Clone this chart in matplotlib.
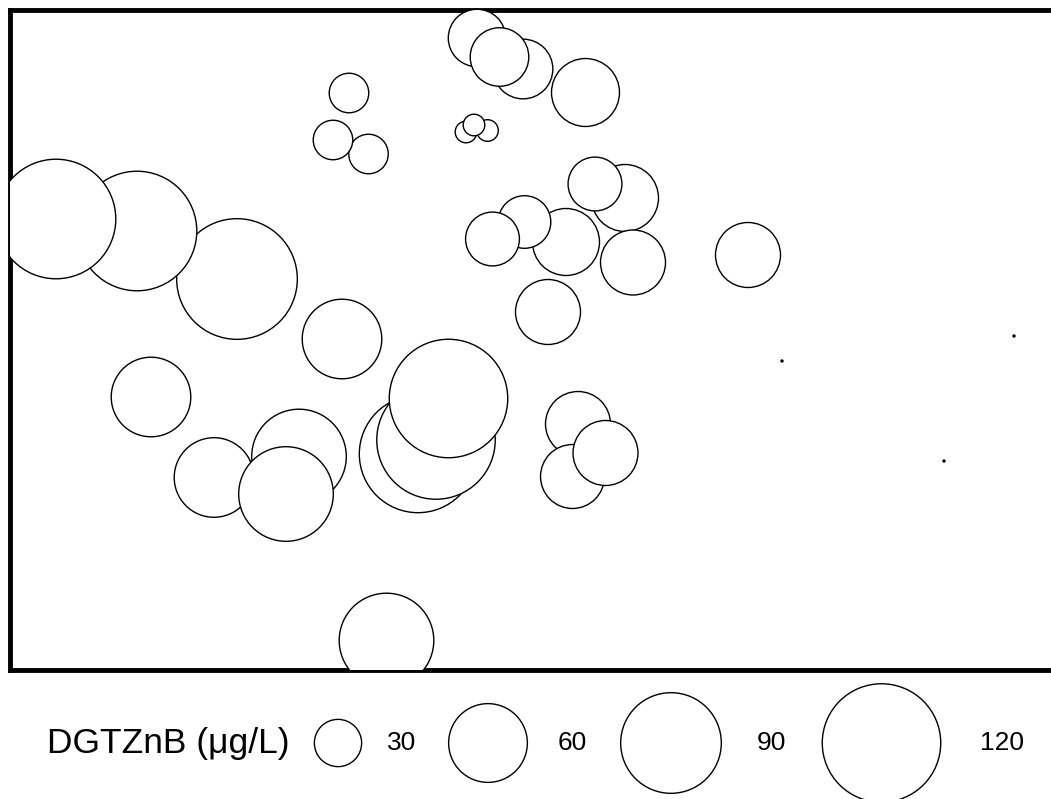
import numpy as np
import matplotlib.pyplot as plt

plt.rcParams['font.family'] = ['Liberation Sans', 'DejaVu Sans']

# Sampling sites (grid units) and DGT-labile zinc, listed in drawing order
site_x = [22.7, 12.7, 4.6, 33.9, 35.85, 32.3, 46.7, 51.3, 48.95, 57.55,
          45.6, 47.75, 46.4, 61.5, 58.5, 55.6, 51.45, 48.25, 62.3, 53.8,
          73.8, 77.2, 100.4, 93.4, 33.2, 14.1, 20.4, 28.9, 27.6, 40.8,
          42.6, 43.85, 56.8, 56.25, 59.55, 37.65]
site_y = [39.1, 43.9, 45.1, 57.7, 51.6, 53.0, 63.2, 60.1, 61.3, 57.75,
          53.8, 53.95, 54.5, 47.2, 48.6, 42.8, 44.8, 43.1, 40.75, 35.8,
          41.5, 30.9, 33.4, 20.9, 33.1, 27.3, 19.25, 21.35, 17.6, 21.6,
          23.0, 27.15, 24.6, 19.35, 21.7, 2.95]
dgt_znb = [124, 122, 122, 25, 25, 25, 38, 40, 39, 48,
           17, 17, 17, 47, 35, 47, 34, 35, 45, 45,
           45, 14, 14, 14, 61, 61, 61, 81, 81, 118,
           120, 120, 45, 44, 45, 81]

legend_values = [30, 60, 90, 120]
legend_labels = ["30", "60", "90", "120"]
legend_title = "DGTZnB (μg/L)"

DPI = 100
W_PX, H_PX = 1051, 799
V_MIN = min(dgt_znb)


def marker_area(values):
    """Bubble area in pt^2: diameter grows with sqrt of value above the minimum."""
    v = np.asarray(values, dtype=float)
    d_px = 2.0 + np.sqrt(128.0 * np.clip(v - V_MIN, 0, None))
    return (d_px * 72.0 / DPI) ** 2


fig = plt.figure(figsize=(W_PX / DPI, H_PX / DPI), dpi=DPI)

# main panel
ax = fig.add_axes([10 / W_PX, (H_PX - 670) / H_PX, (W_PX - 10) / W_PX, 660 / H_PX])
ax.scatter(site_x, site_y, s=marker_area(dgt_znb), facecolors='white',
           edgecolors='black', linewidths=1.0, zorder=3)
ax.set_xlim(0, 104.1)
ax.set_ylim(0, 66.0)
ax.set_xticks([])
ax.set_yticks([])
for side in ('left', 'top', 'bottom'):
    ax.spines[side].set_linewidth(3.5)
    ax.spines[side].set_capstyle('projecting')
ax.spines['right'].set_visible(False)

# size legend strip
lg = fig.add_axes([0, 0, 1, 119 / H_PX])
lg.set_xlim(0, W_PX)
lg.set_ylim(0, 119)
lg.axis('off')
row_y = 56
lg.text(47, row_y, legend_title, fontsize=25.5, ha='left', va='center')
key_x = [338, 488, 671, 881.5]
label_x = [387, 558, 757, 980]
lg.scatter(key_x, [row_y] * len(key_x), s=marker_area(legend_values),
           facecolors='white', edgecolors='black', linewidths=1.0, clip_on=False)
for lx, lab in zip(label_x, legend_labels):
    lg.text(lx, row_y, lab, fontsize=19, ha='left', va='center')

fig.savefig('out.png', dpi=DPI)
